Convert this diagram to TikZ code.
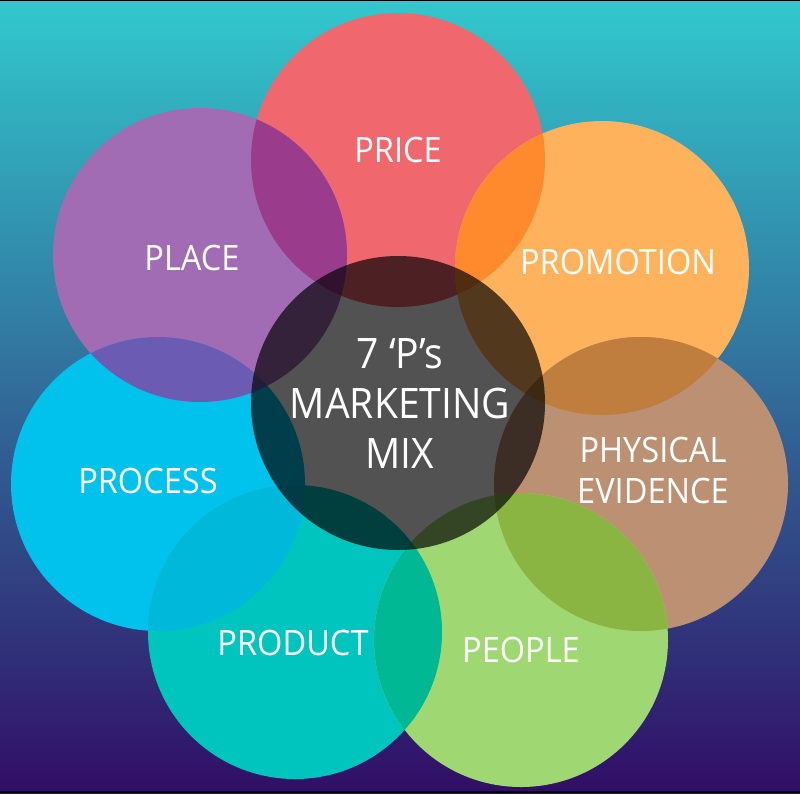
\documentclass[tikz,border=0pt]{standalone}
\usepackage{fontspec}
\setmainfont[FakeStretch=0.93]{Open Sans}
\usetikzlibrary{positioning}

\definecolor{bgtop}{RGB}{50,200,205}
\definecolor{bgmid}{RGB}{47,106,152}
\definecolor{bgbot}{RGB}{49,14,102}
\definecolor{pricecol}{RGB}{240,104,110}
\definecolor{placecol}{RGB}{162,108,181}
\definecolor{promocol}{RGB}{255,178,92}
\definecolor{physcol}{RGB}{188,145,115}
\definecolor{processcol}{RGB}{0,194,236}
\definecolor{productcol}{RGB}{0,196,190}
\definecolor{peoplecol}{RGB}{159,216,114}
% overlap colours
\definecolor{plpr}{RGB}{154,59,139}
\definecolor{prpm}{RGB}{255,138,45}
\definecolor{pmph}{RGB}{192,126,62}
\definecolor{phpe}{RGB}{138,181,66}
\definecolor{pepd}{RGB}{0,184,147}
\definecolor{pdps}{RGB}{0,184,218}
\definecolor{pspl}{RGB}{108,91,178}

\tikzset{
  petal/.style={circle, minimum size=294pt, inner sep=0pt},
  word/.style={text=white, font=\fontsize{35}{41}\selectfont, align=center, inner sep=0pt},
  bigword/.style={text=white, font=\fontsize{42}{50}\selectfont, align=center, inner sep=0pt}
}

\begin{document}
\begin{tikzpicture}[x=1pt, y=-1pt]
  \useasboundingbox (0,0) rectangle (800,793);
  \shade[top color=bgtop, middle color=bgmid, bottom color=bgbot] (0,0) rectangle (800,793);
  \fill[black] (0,0) rectangle (800,1);
  \fill[black] (0,791) rectangle (800,793);

  % Underlay for the middle
  \fill[white] (398,403) circle (147);

  % Petals
  \node[petal, fill=pricecol] (price) at (398,160) {};
  \node[petal, fill=placecol] (place) at (200,255) {};
  \node[petal, fill=promocol] (promo) at (602,268) {};
  \node[petal, fill=physcol] (phys) at (641,484) {};
  \node[petal, fill=processcol] (process) at (158,484) {};
  \node[petal, fill=productcol] (product) at (295,632) {};
  \node[petal, fill=peoplecol] (people) at (521,640) {};

  % Overlaps
  \begin{scope}
    \clip (place.center) circle (147);
    \fill[plpr] (price.center) circle (147);
  \end{scope}
  \begin{scope}
    \clip (price.center) circle (147);
    \fill[prpm] (promo.center) circle (147);
  \end{scope}
  \begin{scope}
    \clip (promo.center) circle (147);
    \fill[pmph] (phys.center) circle (147);
  \end{scope}
  \begin{scope}
    \clip (phys.center) circle (147);
    \fill[phpe] (people.center) circle (147);
  \end{scope}
  \begin{scope}
    \clip (people.center) circle (147);
    \fill[pepd] (product.center) circle (147);
  \end{scope}
  \begin{scope}
    \clip (product.center) circle (147);
    \fill[pdps] (process.center) circle (147);
  \end{scope}
  \begin{scope}
    \clip (process.center) circle (147);
    \fill[pspl] (place.center) circle (147);
  \end{scope}

  % Centre
  \node[petal, fill=black, fill opacity=0.68] (mix) at (398,403) {};

  % Words
  \node[word] (pricetxt) at (398,150) {PRICE};
  \node[word] (placetxt) at (192,258) {PLACE};
  \node[word] (promotxt) at (618,262) {PROMOTION};
  \node[word] (phystxt) at (653,470) {PHYSICAL\\EVIDENCE};
  \node[word] (processtxt) at (148,481) {PROCESS};
  \node[word] (producttxt) at (293,643) {PRODUCT};
  \node[word] (peopletxt) at (521,650) {PEOPLE};
  \node[bigword] (mixtxt) at (400,403) {7 ‘P’s\\MARKETING\\MIX};
\end{tikzpicture}
\end{document}
